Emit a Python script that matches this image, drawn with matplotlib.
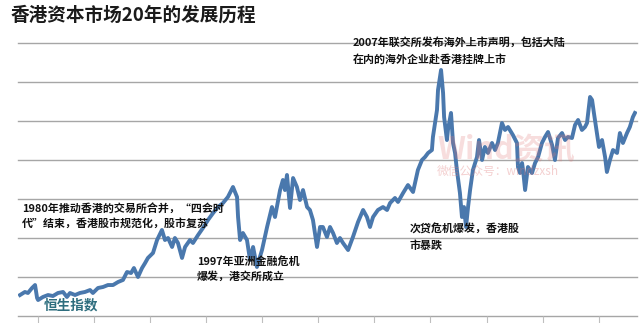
import matplotlib
matplotlib.use("Agg")
import matplotlib.pyplot as plt

plt.rcParams['font.family'] = ['Noto Sans CJK SC', 'DejaVu Sans']

# Hang Seng index (year, index level)
years = [1987.10, 1987.34, 1987.49, 1987.69, 1987.84, 1987.94, 1987.99, 1988.23, 1988.48, 1988.72,
         1988.97, 1989.22, 1989.41, 1989.56, 1989.81, 1990.05, 1990.30, 1990.55, 1990.69, 1990.94,
         1991.19, 1991.43, 1991.68, 1991.93, 1992.17, 1992.37, 1992.57, 1992.71, 1992.91, 1993.11,
         1993.26, 1993.40, 1993.65, 1993.85, 1994.09, 1994.24, 1994.39, 1994.59, 1994.73, 1994.88,
         1995.08, 1995.23, 1995.47, 1995.62, 1995.87, 1996.11, 1996.36, 1996.61, 1996.85, 1997.10,
         1997.34, 1997.59, 1997.79, 1997.84, 1997.94, 1998.08, 1998.28, 1998.43, 1998.58, 1998.77,
         1999.02, 1999.27, 1999.51, 1999.66, 1999.91, 2000.05, 2000.15, 2000.25, 2000.40, 2000.55,
         2000.74, 2000.89, 2001.04, 2001.24, 2001.38, 2001.53, 2001.73, 2001.88, 2002.02, 2002.22,
         2002.37, 2002.52, 2002.71, 2002.86, 2003.01, 2003.26, 2003.50, 2003.75, 2004.00, 2004.19,
         2004.34, 2004.49, 2004.73, 2004.98, 2005.18, 2005.33, 2005.57, 2005.72, 2005.97, 2006.21,
         2006.46, 2006.70, 2006.90, 2007.05, 2007.20, 2007.39, 2007.44, 2007.64, 2007.69, 2007.84,
         2007.94, 2007.99, 2008.13, 2008.18, 2008.33, 2008.43, 2008.53, 2008.62, 2008.77, 2008.87,
         2008.97, 2009.07, 2009.17, 2009.27, 2009.41, 2009.61, 2009.71, 2009.86, 2010.00, 2010.15,
         2010.35, 2010.50, 2010.64, 2010.84, 2010.99, 2011.14, 2011.38, 2011.58, 2011.63, 2011.73,
         2011.83, 2011.88, 2011.98, 2012.12, 2012.32, 2012.47, 2012.62, 2012.81, 2012.96, 2013.11,
         2013.31, 2013.45, 2013.60, 2013.80, 2013.95, 2014.09, 2014.29, 2014.44, 2014.59, 2014.78,
         2014.93, 2015.03, 2015.18, 2015.28, 2015.37, 2015.52, 2015.62, 2015.77, 2015.92, 2016.01,
         2016.16, 2016.31, 2016.51, 2016.65, 2016.80, 2017.00, 2017.14, 2017.29, 2017.39]
hsi = [2690, 3080, 2950, 3590, 3970, 2310, 2050, 2440, 2690, 2560,
       2950, 3080, 2440, 2950, 2690, 2950, 3080, 3330, 2950, 3590,
       3720, 3970, 3970, 4360, 4620, 5640, 5510, 6150, 5000, 6150,
       6790, 7440, 8080, 9740, 11030, 9740, 10000, 8850, 10000, 9360,
       7440, 8850, 9740, 9360, 10380, 11280, 12310, 13200, 13970, 14490,
       15260, 16540, 15260, 12690, 9740, 10640, 9740, 7180, 8850, 6280,
       8460, 11410, 13970, 12690, 16150, 17440, 16150, 18080, 13850, 17690,
       16540, 14870, 16150, 13970, 13590, 12310, 8850, 11410, 11410, 10130,
       11410, 10640, 9360, 10000, 9360, 8460, 10130, 12050, 13590, 12690,
       11410, 12690, 13590, 13970, 13590, 14490, 15130, 14620, 15770, 16790,
       15900, 18720, 20000, 20380, 20900, 21280, 22950, 26410, 28970, 31540,
       28590, 25510, 22560, 23850, 26030, 22180, 20900, 18720, 15770, 12690,
       13970, 11410, 13970, 16150, 18720, 20380, 22560, 20000, 21670, 20900,
       22180, 21280, 22180, 24740, 23850, 24230, 23200, 22180, 19100, 18330,
       19610, 18720, 16150, 19100, 18330, 19610, 20380, 22180, 22950, 23590,
       21920, 20000, 22820, 23460, 22560, 22950, 22820, 24490, 25130, 23850,
       24230, 24740, 28080, 27690, 26030, 23460, 21670, 22560, 20380, 18460,
       20000, 21280, 20900, 23460, 22180, 23460, 24230, 25510, 26030]

grid_levels = [0, 5000, 10000, 15000, 20000, 25000, 30000, 35000]
tick_years = [1988.0 + 2.76 * k for k in range(11)]

title = "香港资本市场20年的发展历程"
notes = [
    ("2007年联交所发布海外上市声明，包括大陆", 353, 37),
    ("在内的海外企业赴香港挂牌上市", 353, 54),
    ("1980年推动香港的交易所合并，“四会时", 22, 204),
    ("代”结束，香港股市规范化，股市复苏", 22, 218),
    ("1997年亚洲金融危机", 197, 256),
    ("爆发，港交所成立", 197, 271),
    ("次贷危机爆发，香港股", 410, 224),
    ("市暴跌", 410, 240),
]

W, H = 640, 323
fig = plt.figure(figsize=(6.4, 3.23), dpi=100)
ax = fig.add_axes([18 / W, 7 / H, 619 / W, 276 / H])

for g in grid_levels:
    ax.axhline(g, color='#a6a6a6', lw=1.0, zorder=1, clip_on=False)

ax.plot(years, hsi, color='#4a78ad', lw=2.8, solid_joinstyle='round', zorder=3)

ax.set_xlim(1987.0, 1987.0 + 619 / 20.3)
ax.set_ylim(0, 35385)
for s in ax.spines.values():
    s.set_visible(False)
ax.set_yticks([])
ax.set_xticks(tick_years)
ax.set_xticklabels([])
ax.tick_params(axis='x', length=5, width=0.8, color='#bfbfbf', direction='out')

# watermark
fig.text(437 / W, 1 - 133 / H, "Wind资讯", fontsize=22, color='#e07a7a', alpha=0.25,
         fontweight='bold', va='top', ha='left')
fig.text(437 / W, 1 - 165 / H, "微信公众号：windzxsh", fontsize=8.5, color='#e07a7a', alpha=0.35,
         va='top', ha='left', family=['Noto Sans CJK SC', 'DejaVu Serif'])

fig.text(11 / W, 1 - 6 / H, title, fontsize=13.4, fontweight='bold', color='#1a1a1a',
         va='top', ha='left')

for txt, x, y in notes:
    fig.text(x / W, 1 - y / H, txt, fontsize=7.9, fontweight='bold', color='#111111',
             va='top', ha='left', zorder=5)

fig.text(44 / W, 1 - 298 / H, "恒生指数", fontsize=9.8, fontweight='bold', color='#2e6e7e',
         va='top', ha='left')

fig.savefig("out.png", dpi=100, facecolor='white')
